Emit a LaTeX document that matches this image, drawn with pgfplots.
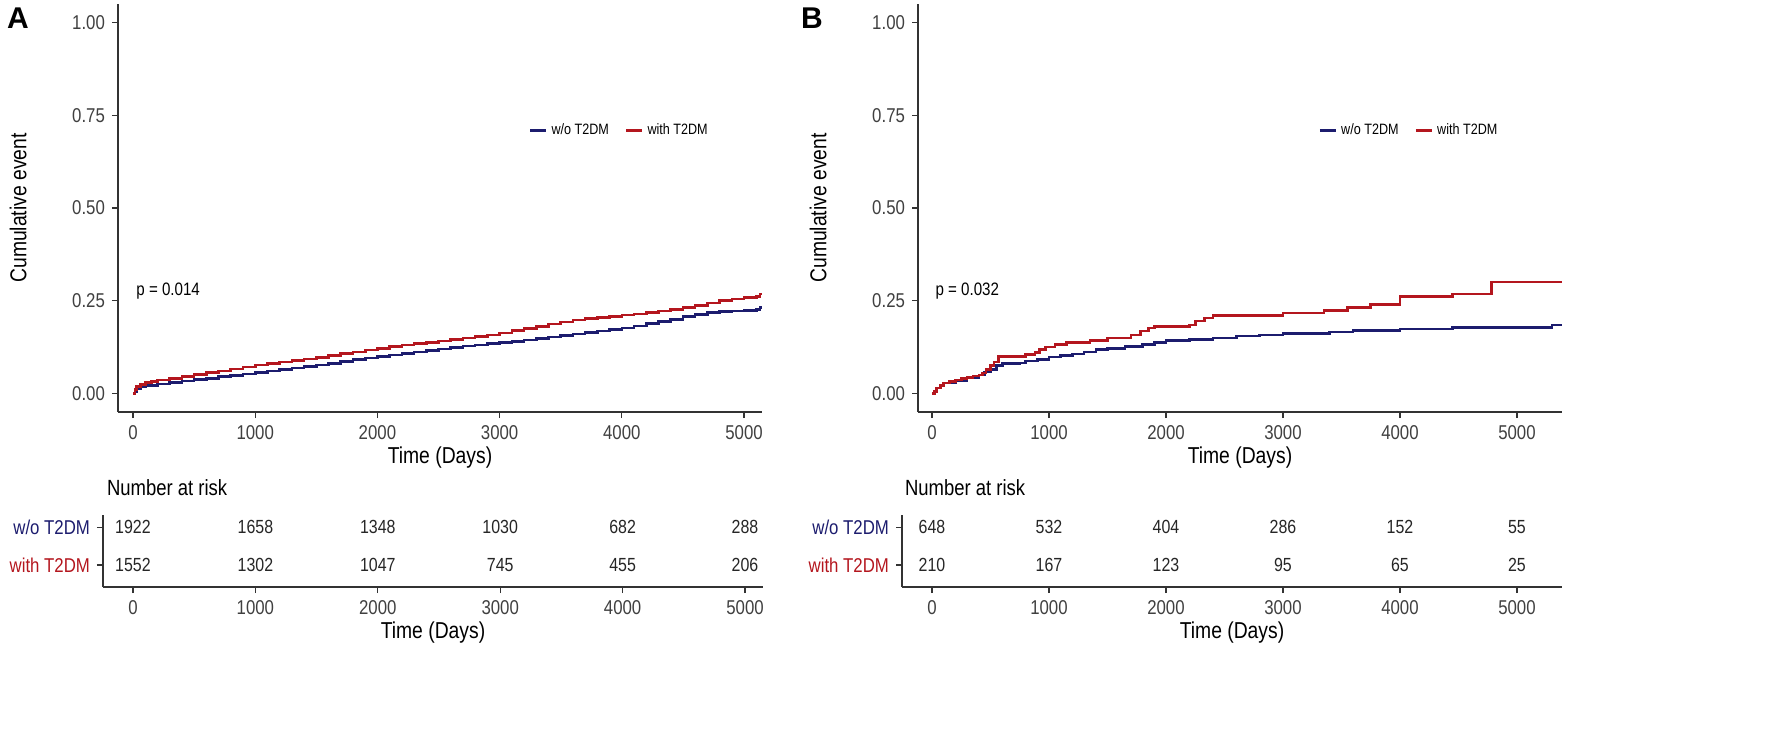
\documentclass[border=0pt]{standalone}
\usepackage{fontspec}
\setmainfont{Liberation Sans}[FakeStretch=0.84]
\newfontfamily\widesans{Liberation Sans}
\usepackage{pgfplots}
\usepackage{pgfplotstable}
\pgfplotsset{compat=1.18}

\definecolor{kmblue}{RGB}{28,28,110}
\definecolor{kmred}{RGB}{180,22,30}

% cumulative event curves, panel A
\pgfplotstableread{
t v
0 0
15 0.01
30 0.018
60 0.024
100 0.029
150 0.033
200 0.036
300 0.041
400 0.046
500 0.051
600 0.056
700 0.061
800 0.066
900 0.071
1000 0.077
1100 0.081
1200 0.085
1300 0.089
1400 0.093
1500 0.097
1600 0.102
1700 0.107
1800 0.112
1900 0.117
2000 0.122
2100 0.127
2200 0.131
2300 0.135
2400 0.138
2500 0.141
2600 0.145
2700 0.149
2800 0.153
2900 0.158
3000 0.163
3100 0.169
3200 0.175
3300 0.181
3400 0.187
3500 0.193
3600 0.198
3700 0.202
3800 0.205
3900 0.208
4000 0.211
4100 0.214
4200 0.218
4300 0.222
4400 0.226
4500 0.231
4600 0.237
4700 0.244
4800 0.251
4900 0.255
5000 0.258
5100 0.261
5130 0.268
5147 0.268
}\redA
\pgfplotstableread{
t v
0 0
15 0.006
30 0.012
60 0.017
100 0.021
200 0.026
300 0.030
400 0.034
500 0.037
600 0.041
700 0.045
800 0.049
900 0.053
1000 0.057
1100 0.061
1200 0.065
1300 0.069
1400 0.073
1500 0.077
1600 0.081
1700 0.086
1800 0.091
1900 0.096
2000 0.100
2100 0.104
2200 0.108
2300 0.112
2400 0.116
2500 0.120
2600 0.124
2700 0.128
2800 0.131
2900 0.134
3000 0.137
3100 0.140
3200 0.144
3300 0.148
3400 0.152
3500 0.156
3600 0.160
3700 0.164
3800 0.168
3900 0.172
4000 0.176
4100 0.182
4200 0.188
4300 0.194
4400 0.200
4500 0.207
4600 0.213
4700 0.218
4800 0.221
4900 0.222
5000 0.223
5100 0.226
5130 0.232
5147 0.232
}\blueA

% panel B
\pgfplotstableread{
t v
0 0
20 0.005
40 0.015
70 0.022
100 0.028
150 0.032
200 0.036
250 0.040
300 0.043
350 0.047
400 0.050
430 0.055
460 0.065
500 0.075
530 0.085
570 0.100
800 0.105
880 0.110
920 0.118
970 0.125
1050 0.132
1150 0.138
1350 0.143
1500 0.150
1700 0.158
1780 0.168
1850 0.176
1900 0.180
2200 0.185
2250 0.195
2330 0.203
2400 0.210
3000 0.217
3350 0.224
3550 0.232
3750 0.240
4000 0.262
4450 0.268
4780 0.300
5385 0.300
}\redB
\pgfplotstableread{
t v
0 0
20 0.005
40 0.015
70 0.022
100 0.028
200 0.035
300 0.042
400 0.050
450 0.058
500 0.065
550 0.075
600 0.080
750 0.082
800 0.088
900 0.092
1000 0.098
1100 0.102
1200 0.106
1300 0.112
1400 0.118
1500 0.122
1650 0.126
1800 0.132
1900 0.138
2000 0.142
2200 0.146
2400 0.150
2600 0.155
2800 0.158
3000 0.162
3400 0.166
3600 0.170
4000 0.174
4450 0.178
5300 0.185
5385 0.185
}\blueB

% number at risk (r=2: w/o T2DM, r=1: with T2DM)
\pgfplotstableread{
t r n
0 2 1922
1000 2 1658
2000 2 1348
3000 2 1030
4000 2 682
5000 2 288
0 1 1552
1000 1 1302
2000 1 1047
3000 1 745
4000 1 455
5000 1 206
}\riskA
\pgfplotstableread{
t r n
0 2 648
1000 2 532
2000 2 404
3000 2 286
4000 2 152
5000 2 55
0 1 210
1000 1 167
2000 1 123
3000 1 95
4000 1 65
5000 1 25
}\riskB

\pgfplotsset{
  km/.style={
    scale only axis, anchor=south west,
    axis x line*=bottom, axis y line*=left,
    axis line style={-, black!80, line width=0.6pt},
    tick align=outside, major tick length=3pt,
    every tick/.style={black!80, line width=0.6pt},
    tick label style={font=\fontsize{10}{11}\selectfont, text=black!75},
    /pgf/number format/assume math mode=true,
    /pgf/number format/set thousands separator={},
    xtick={0,1000,...,5000},
    label style={font=\fontsize{11.5}{12}\selectfont},
    xlabel={Time (Days)},
    xlabel style={yshift=3pt},
  },
  curve/.style={
    km, width=322pt, height=204pt,
    ymin=-0.05, ymax=1.05,
    ytick={0,0.25,0.5,0.75,1},
    yticklabel style={/pgf/number format/.cd, fixed, fixed zerofill, precision=2},
    ylabel={Cumulative event},
    ylabel style={yshift=16pt},
    legend columns=2,
    legend style={draw=none, fill=none, font=\fontsize{7.5}{8}\selectfont,
      /tikz/every even column/.append style={column sep=6pt}},
    legend image code/.code={\draw[#1, line width=1.3pt] (0pt,0pt) -- (8pt,0pt);},
  },
  risk/.style={
    km, width=330pt, height=36pt,
    ymin=0.42, ymax=2.32,
    ytick={1,2},
    yticklabels={\textcolor{kmred}{with T2DM}, \textcolor{kmblue}{w/o T2DM}},
  },
  riskrow/.style={
    draw=none, mark=none, nodes near coords,
    point meta=explicit symbolic,
    nodes near coords align={center},
    every node near coord/.append style={font=\fontsize{9.5}{10}\selectfont, text=black!85},
  },
}

\begin{document}
\begin{tikzpicture}
\path[use as bounding box] (0pt,0pt) rectangle (886pt,365pt);

\node[font=\widesans\fontsize{15}{16}\bfseries] at (9pt,356pt) {A};
\node[font=\widesans\fontsize{15}{16}\bfseries] at (406pt,356pt) {B};

% ---- panel A ----
\begin{axis}[curve, at={(59pt,159pt)}, xmin=-123, xmax=5147,
  legend style={at={(0.78,0.69)}, anchor=center}]
\addplot[const plot, kmblue, line width=1.3pt] table[x=t, y=v] {\blueA};
\addlegendentry{w/o T2DM}
\addplot[const plot, kmred, line width=1.3pt] table[x=t, y=v] {\redA};
\addlegendentry{with T2DM}
\node[anchor=west, font=\fontsize{9}{10}\selectfont] at (axis cs:-30,0.275) {p = 0.014};
\end{axis}

\begin{axis}[risk, at={(51.5pt,71.5pt)}, xmin=-245, xmax=5147]
\addplot[riskrow] table[x=t, y=r, meta=n] {\riskA};
\end{axis}
\node[anchor=west, font=\fontsize{11}{12}\selectfont] at (50pt,121pt) {Number at risk};

% ---- panel B ----
\begin{axis}[curve, at={(459pt,159pt)}, xmin=-120, xmax=5385,
  legend style={at={(0.764,0.69)}, anchor=center}]
\addplot[const plot, kmblue, line width=1.3pt] table[x=t, y=v] {\blueB};
\addlegendentry{w/o T2DM}
\addplot[const plot, kmred, line width=1.3pt] table[x=t, y=v] {\redB};
\addlegendentry{with T2DM}
\node[anchor=west, font=\fontsize{9}{10}\selectfont] at (axis cs:-30,0.275) {p = 0.032};
\end{axis}

\begin{axis}[risk, at={(451pt,71.5pt)}, xmin=-256, xmax=5385]
\addplot[riskrow] table[x=t, y=r, meta=n] {\riskB};
\end{axis}
\node[anchor=west, font=\fontsize{11}{12}\selectfont] at (449pt,121pt) {Number at risk};
\end{tikzpicture}
\end{document}
